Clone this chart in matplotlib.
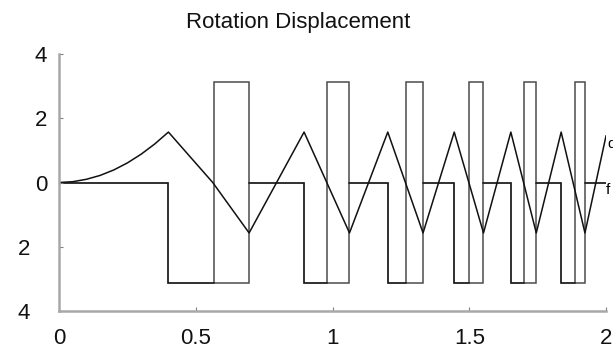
import matplotlib
matplotlib.use("Agg")
import matplotlib.pyplot as plt
from matplotlib.transforms import ScaledTranslation

plt.rcParams["font.family"] = ["Liberation Sans", "DejaVu Sans"]

# rotation angle: smooth start, then zigzag between about +-pi/2
theta_t = [0.0, 0.05, 0.10, 0.15, 0.20, 0.25, 0.30, 0.35, 0.40,
           0.562, 0.695, 0.896, 1.062, 1.202, 1.331, 1.445, 1.552,
           1.652, 1.745, 1.836, 1.923, 2.0]
theta_v = [0.0, 0.025, 0.10, 0.22, 0.39, 0.61, 0.88, 1.20, 1.57,
           0.0, -1.57, 1.57, -1.57, 1.57, -1.57, 1.57, -1.57,
           1.57, -1.57, 1.57, -1.57, 1.45]

# switching signal (0 / -pi / +pi)
f_edges = [0.0, 0.40, 0.565, 0.695, 0.896, 0.981, 1.062, 1.202, 1.270,
           1.331, 1.445, 1.500, 1.552, 1.652, 1.701, 1.745, 1.836, 1.887,
           1.923, 2.0]
f_levels = [0.0, -3.14, 3.14, 0.0, -3.14, 3.14, 0.0, -3.14, 3.14,
            0.0, -3.14, 3.14, 0.0, -3.14, 3.14, 0.0, -3.14, 3.14, 0.0]

# second step trace: -pi while the angle falls
g_edges = [0.0, 0.40, 0.695, 0.896, 1.062, 1.202, 1.331, 1.445, 1.552,
           1.652, 1.745, 1.836, 1.923, 2.0]
g_levels = [0.0, -3.14, 0.0, -3.14, 0.0, -3.14, 0.0, -3.14, 0.0,
            -3.14, 0.0, -3.14, 0.0]

x_ticks = [0, 0.5, 1, 1.5, 2]
x_labels = ["0", "0.5", "1", "1.5", "2"]
y_ticks = [-4, -2, 0, 2, 4]
y_labels = ["4", "2", "0", "2", "4"]   # minus signs are not rendered in the original

fig = plt.figure(figsize=(6.13, 3.48), dpi=100)
ax = fig.add_axes([0.0963, 0.1063, 0.8923, 0.7385])

ax.stairs(g_levels, g_edges, baseline=None, color="k", alpha=0.7, lw=1.1)
ax.stairs(f_levels, f_edges, baseline=None, color="k", alpha=0.7, lw=1.1)
ax.plot(theta_t, theta_v, color="#111111", lw=1.1)

ax.text(2.005, 1.42, "q", fontsize=11, ha="left", va="top")
ax.text(1.998, -0.02, "f", fontsize=11, ha="left", va="top")

ax.set_xlim(0, 2)
ax.set_ylim(-4, 4)
ax.set_xticks(x_ticks)
ax.set_xticklabels(x_labels)
ax.set_yticks(y_ticks)
ax.set_yticklabels(y_labels)

for s in ("top", "right"):
    ax.spines[s].set_visible(False)
for s in ("left", "bottom"):
    ax.spines[s].set_color("#a8a8a8")
    ax.spines[s].set_linewidth(1.8)

ax.tick_params(axis="both", direction="in", length=3, width=0.8,
               color="#808080", labelsize=16, labelcolor="#111111")
ax.tick_params(axis="x", pad=12)
ax.tick_params(axis="y", pad=8.5)

# negative labels keep the room of their (invisible) minus sign
shift = ScaledTranslation(-0.17, 0, fig.dpi_scale_trans)
for val, lab in zip(y_ticks, ax.get_yticklabels()):
    if val < 0:
        lab.set_transform(lab.get_transform() + shift)

fig.text(0.487, 1 - 22.5 / 348, "Rotation Displacement", ha="center",
         va="center", fontsize=16, color="#111111")

fig.savefig("out.png", dpi=100)
